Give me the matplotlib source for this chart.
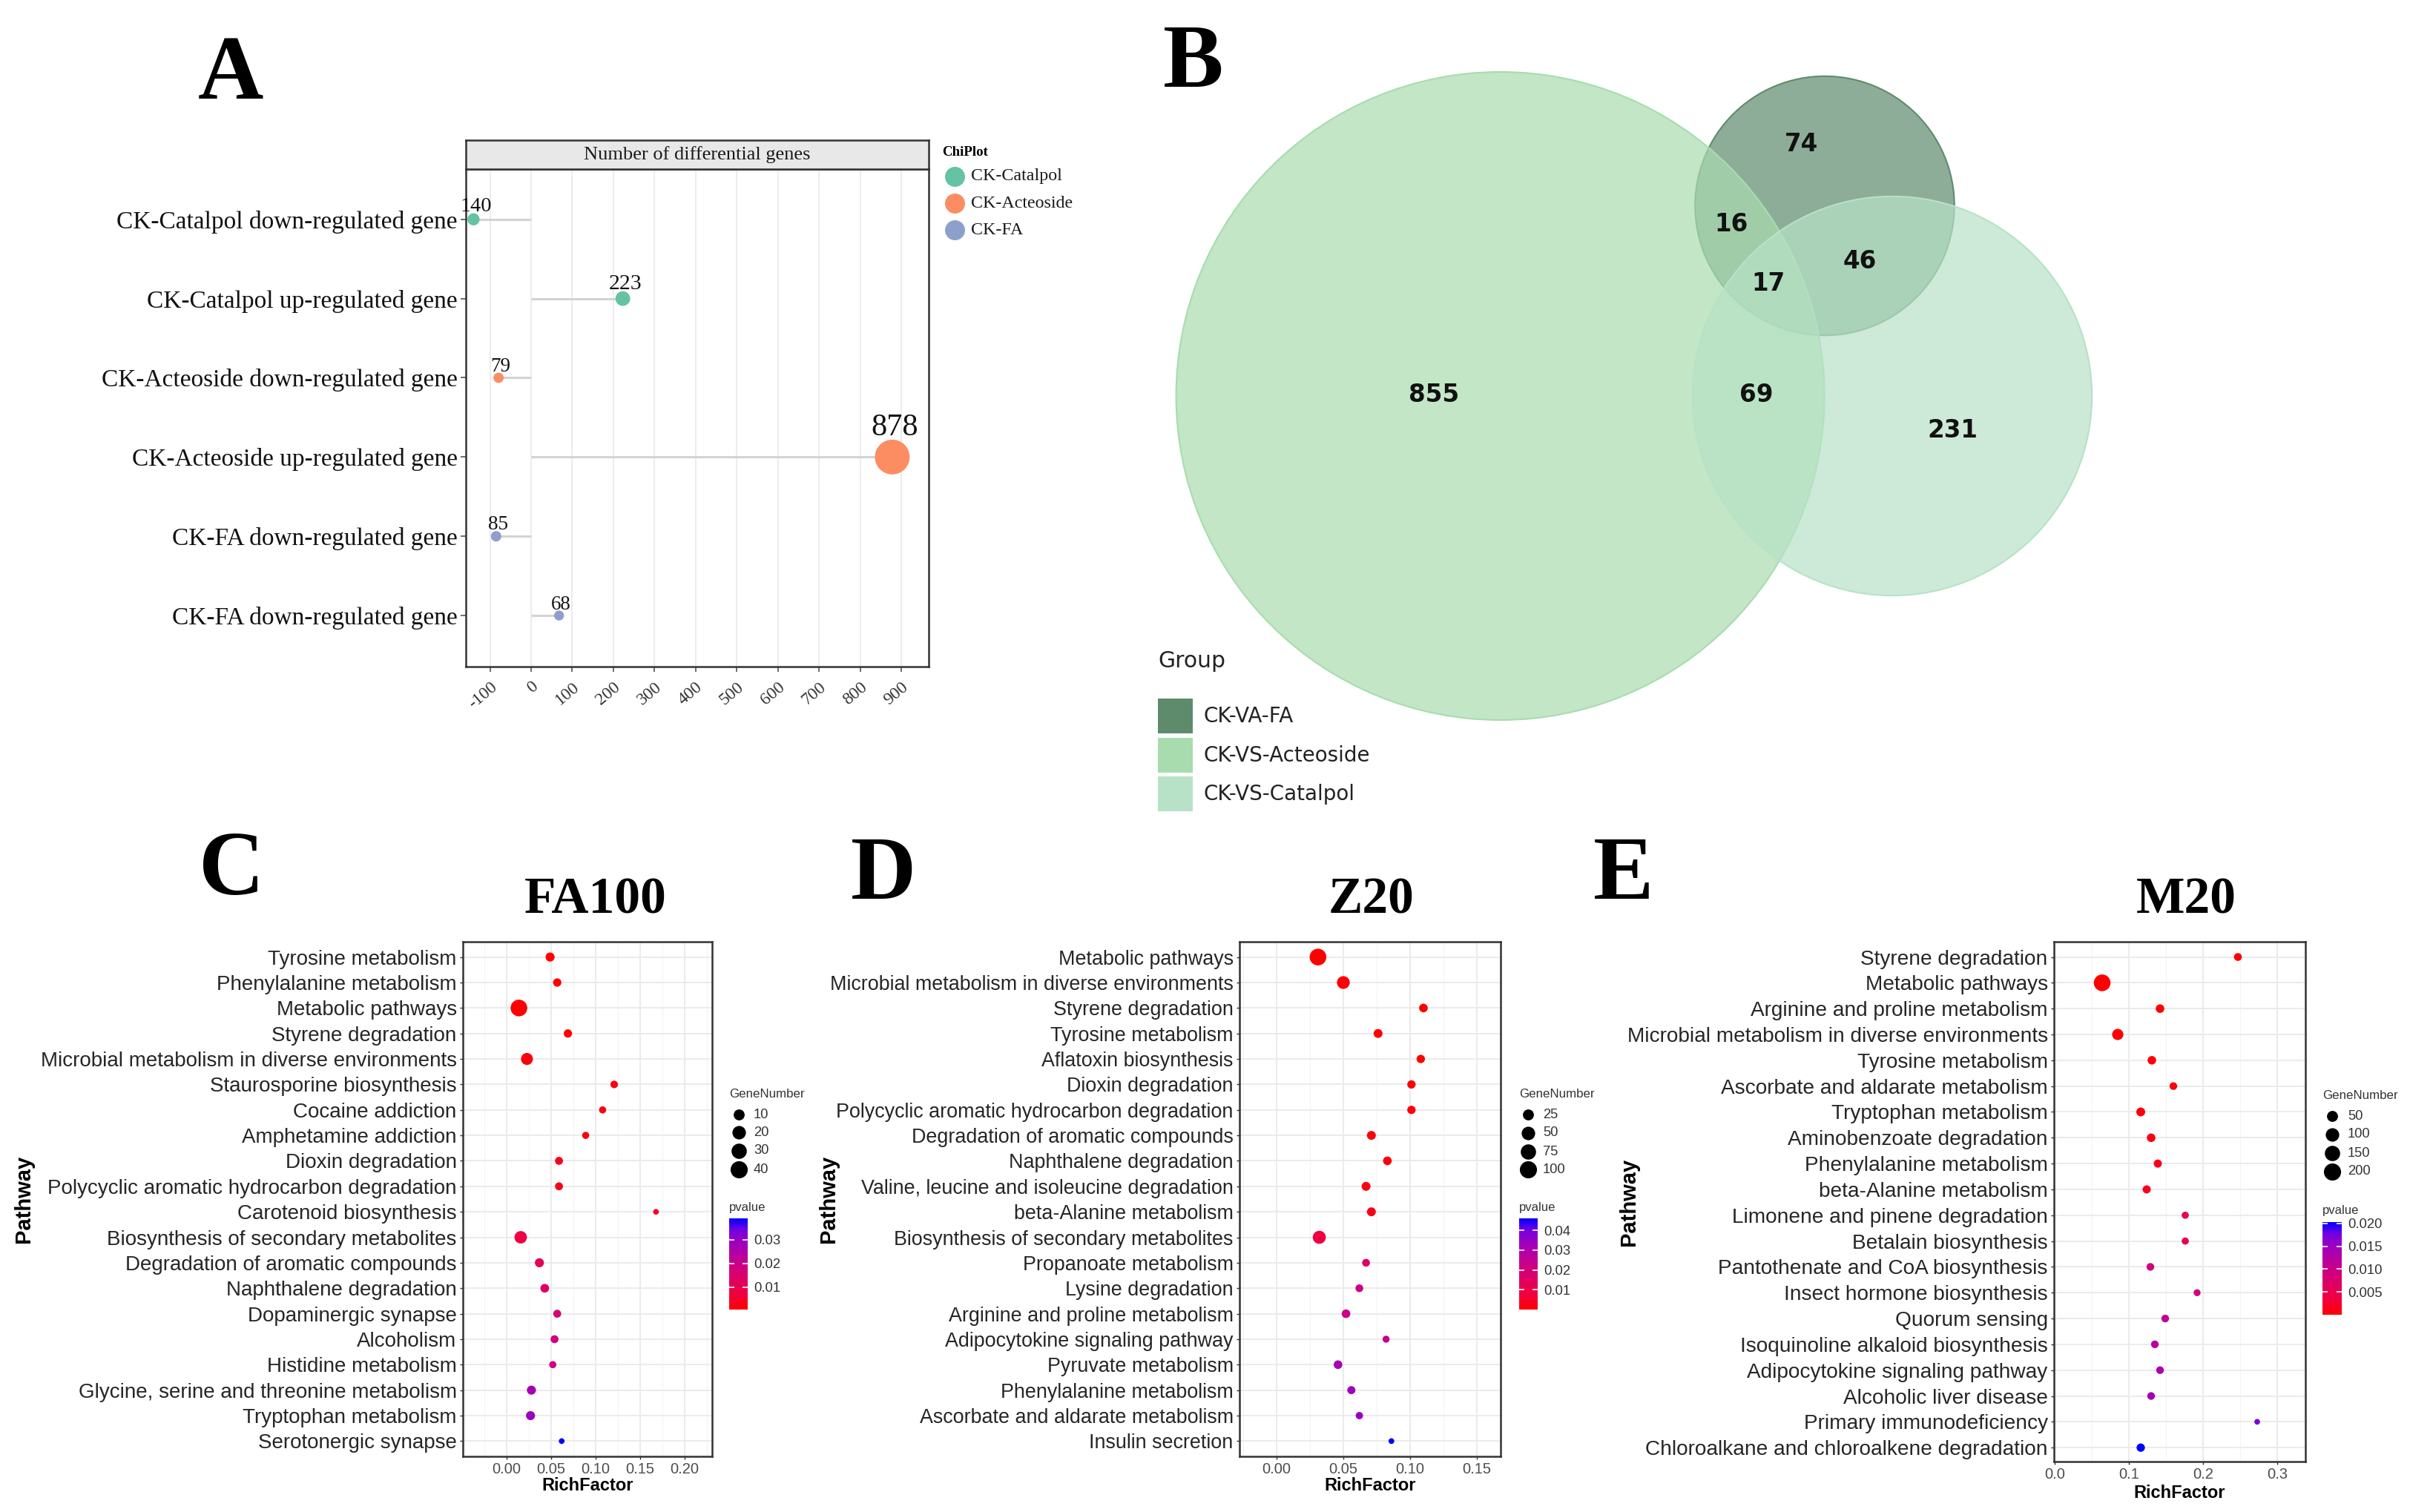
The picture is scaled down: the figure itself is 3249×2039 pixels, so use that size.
import numpy as np
import matplotlib
matplotlib.use("Agg")
import matplotlib.pyplot as plt
from matplotlib.cm import ScalarMappable
from matplotlib.colors import LinearSegmentedColormap, Normalize, to_rgb
from matplotlib.patches import Circle, Rectangle
from matplotlib.ticker import MultipleLocator

W, H, DPI = 3249, 2039, 100
PX = 72.0 / DPI  # points per pixel
SERIF = "Liberation Serif"
SANS = "Liberation Sans"

# ---------------- A: number of differential genes ----------------
a_labels = ["CK-Catalpol down-regulated gene", "CK-Catalpol up-regulated gene",
            "CK-Acteoside down-regulated gene", "CK-Acteoside up-regulated gene",
            "CK-FA down-regulated gene", "CK-FA down-regulated gene"]
a_values = [-140, 223, -79, 878, -85, 68]
a_groups = ["CK-Catalpol", "CK-Catalpol", "CK-Acteoside", "CK-Acteoside", "CK-FA", "CK-FA"]
a_group_names = ["CK-Catalpol", "CK-Acteoside", "CK-FA"]
a_group_colors = ["#66C2A5", "#FC8D62", "#8DA0CB"]
a_xticks = list(range(-100, 1000, 100))

# ---------------- B: venn ----------------
venn_names = ["CK-VA-FA", "CK-VS-Acteoside", "CK-VS-Catalpol"]
venn_colors = ["#5F8B6D", "#A8DCAE", "#B7E2C7"]
venn_keys = ["100", "010", "001", "110", "101", "011", "111"]  # FA, Acteoside, Catalpol
venn_counts = [74, 855, 231, 16, 46, 69, 17]

# ---------------- C: FA100 ----------------
c_pathways = ["Tyrosine metabolism", "Phenylalanine metabolism", "Metabolic pathways",
              "Styrene degradation", "Microbial metabolism in diverse environments",
              "Staurosporine biosynthesis", "Cocaine addiction", "Amphetamine addiction",
              "Dioxin degradation", "Polycyclic aromatic hydrocarbon degradation",
              "Carotenoid biosynthesis", "Biosynthesis of secondary metabolites",
              "Degradation of aromatic compounds", "Naphthalene degradation",
              "Dopaminergic synapse", "Alcoholism", "Histidine metabolism",
              "Glycine, serine and threonine metabolism", "Tryptophan metabolism",
              "Serotonergic synapse"]
c_rich = [0.049, 0.057, 0.014, 0.069, 0.023, 0.121, 0.108, 0.089, 0.059, 0.059,
          0.168, 0.016, 0.037, 0.043, 0.057, 0.054, 0.052, 0.028, 0.027, 0.062]
c_genes = [10, 8, 42, 8, 20, 6, 5, 5, 7, 7, 2, 22, 10, 9, 7, 7, 5, 10, 10, 2]
c_pvals = [0.0006, 0.0008, 0.0010, 0.0013, 0.0016, 0.0020, 0.0024, 0.0028, 0.0032, 0.0032,
           0.0036, 0.0083, 0.0110, 0.0133, 0.0160, 0.0180, 0.0190, 0.0270, 0.0290, 0.0390]
c_breaks = [10, 20, 30, 40]

# ---------------- D: Z20 ----------------
d_pathways = ["Metabolic pathways", "Microbial metabolism in diverse environments",
              "Styrene degradation", "Tyrosine metabolism", "Aflatoxin biosynthesis",
              "Dioxin degradation", "Polycyclic aromatic hydrocarbon degradation",
              "Degradation of aromatic compounds", "Naphthalene degradation",
              "Valine, leucine and isoleucine degradation", "beta-Alanine metabolism",
              "Biosynthesis of secondary metabolites", "Propanoate metabolism",
              "Lysine degradation", "Arginine and proline metabolism",
              "Adipocytokine signaling pathway", "Pyruvate metabolism",
              "Phenylalanine metabolism", "Ascorbate and aldarate metabolism",
              "Insulin secretion"]
d_rich = [0.031, 0.050, 0.110, 0.076, 0.108, 0.101, 0.101, 0.071, 0.083, 0.067,
          0.071, 0.032, 0.067, 0.062, 0.052, 0.082, 0.046, 0.056, 0.062, 0.086]
d_genes = [110, 61, 23, 25, 21, 21, 21, 25, 23, 25, 25, 64, 17, 17, 23, 12, 23, 19, 14, 5]
d_pvals = [0.0001, 0.0002, 0.0004, 0.0006, 0.0009, 0.0012, 0.0012, 0.0016, 0.0019, 0.0024,
           0.0030, 0.0090, 0.0160, 0.0210, 0.0230, 0.0250, 0.0320, 0.0330, 0.0345, 0.0460]
d_breaks = [25, 50, 75, 100]

# ---------------- E: M20 ----------------
e_pathways = ["Styrene degradation", "Metabolic pathways", "Arginine and proline metabolism",
              "Microbial metabolism in diverse environments", "Tyrosine metabolism",
              "Ascorbate and aldarate metabolism", "Tryptophan metabolism",
              "Aminobenzoate degradation", "Phenylalanine metabolism",
              "beta-Alanine metabolism", "Limonene and pinene degradation",
              "Betalain biosynthesis", "Pantothenate and CoA biosynthesis",
              "Insect hormone biosynthesis", "Quorum sensing",
              "Isoquinoline alkaloid biosynthesis", "Adipocytokine signaling pathway",
              "Alcoholic liver disease", "Primary immunodeficiency",
              "Chloroalkane and chloroalkene degradation"]
e_rich = [0.247, 0.064, 0.142, 0.085, 0.131, 0.160, 0.116, 0.130, 0.139, 0.124,
          0.176, 0.176, 0.129, 0.192, 0.149, 0.135, 0.142, 0.130, 0.273, 0.116]
e_genes = [33, 230, 43, 91, 43, 30, 48, 43, 37, 37, 23, 23, 30, 20, 30, 30, 30, 30, 6, 40]
e_pvals = [0.00001, 0.00002, 0.0002, 0.0003, 0.0005, 0.0007, 0.0008, 0.0010, 0.0012, 0.0015,
           0.0050, 0.0052, 0.0090, 0.0092, 0.0110, 0.0120, 0.0132, 0.0142, 0.0173, 0.0203]
e_breaks = [50, 100, 150, 200]

# red -> blue gradient (interpolated through Lab like ggplot does)
CMAP = LinearSegmentedColormap.from_list(
    "pval", [(0, "#FF0000"), (0.125, "#F40031"), (0.25, "#E80050"), (0.5, "#CA0089"),
             (0.75, "#9A00C2"), (0.875, "#7300E0"), (1, "#0000FF")])
DOT_MIN, DOT_MAX = 7.7, 22.5          # point diameters in px
KEY_DIAM = [14.8, 18.2, 20.6, 23.1]   # legend key diameters in px


def box(l, t, r, b):
    """pixel box (left, top, right, bottom) -> figure fraction rect"""
    return [l / W, 1 - b / H, (r - l) / W, (b - t) / H]


fig = plt.figure(figsize=(W / DPI, H / DPI), dpi=DPI)
fig.patch.set_facecolor("white")

# overlay in pixel coordinates for the venn, legends and free text
ov = fig.add_axes([0, 0, 1, 1])
ov.set_xlim(0, W)
ov.set_ylim(H, 0)
ov.axis("off")


def letter(x, y, s, size=88):
    cap = 0.662 * size / PX
    ov.text(x, y + cap / 2, s, family=SERIF, weight="bold", fontsize=size,
            ha="center", va="baseline", color="black")


# ======================= A =======================
ax = fig.add_axes(box(628, 228, 1252, 899))
vals = np.array(a_values)
ypos = np.arange(1, len(vals) + 1)
mag = np.abs(vals)
diam = np.interp(mag, [mag.min(), mag.max()], [13.4, 46.9])
fsize = np.interp(mag, [mag.min(), mag.max()], [19.4, 30.5])
cols = [a_group_colors[a_group_names.index(g)] for g in a_groups]
ax.hlines(ypos, 0, vals, color="#D3D3D3", lw=2.2, zorder=2)
ax.scatter(vals, ypos, s=(diam * PX) ** 2, c=cols, linewidths=0, zorder=3)
for v, yy, d, fs in zip(vals, ypos, diam, fsize):
    ax.annotate(str(abs(v)), (v, yy), xytext=(3 * PX, 1.27 * d / 2 * PX),
                textcoords="offset points", ha="center", va="baseline",
                fontsize=fs, family=SERIF, color="#111111", zorder=4)
ax.set_xlim(-158.6, 966.5)
ax.set_ylim(len(vals) + 0.645, 0.366)
ax.set_xticks(a_xticks)
ax.set_xticklabels([str(t) for t in a_xticks], rotation=40, ha="right",
                   rotation_mode="anchor", family=SERIF, fontsize=17, color="#333333")
ax.set_yticks(ypos)
ax.set_yticklabels(a_labels, family=SERIF, fontsize=24, color="#111111")
ax.grid(axis="x", color="#EBEBEB", lw=1.3)
ax.set_axisbelow(True)
for s in ax.spines.values():
    s.set_color("#333333")
    s.set_linewidth(1.8)
ax.tick_params(length=5, width=1.2, color="#555555", pad=3)
ax.tick_params(axis="x", pad=7)

strip = fig.add_axes(box(628, 189, 1252, 228))
strip.set_facecolor("#E8E8E8")
strip.set_xticks([])
strip.set_yticks([])
for s in strip.spines.values():
    s.set_color("#333333")
    s.set_linewidth(1.8)
strip.text(0.5, 0.5, "Number of differential genes", ha="center", va="center",
           family=SERIF, fontsize=19, color="#1A1A1A")

ov.text(1270, 205, "ChiPlot", family=SERIF, weight="bold", fontsize=13.6,
        ha="left", va="center")
for name, col, yy in zip(a_group_names, a_group_colors, [238, 274, 310]):
    ov.scatter([1287], [yy], s=(27 * PX) ** 2, color=col, linewidths=0)
    ov.text(1309, yy, name, family=SERIF, fontsize=17.3, va="center", color="#1A1A1A")
letter(311, 93, "A")

# ======================= B =======================
member = np.array([[int(c) for c in k] for k in venn_keys])
totals = member.T @ np.array(venn_counts)
radii = 437 * np.sqrt(totals / totals.max())
centers = [(2460, 277.5), (2022.6, 534), (2551, 534)]
for (cx, cy), r, col in zip(centers, radii, venn_colors):
    ov.add_patch(Circle((cx, cy), r, facecolor=(*to_rgb(col), 0.7),
                        edgecolor=col, lw=1.5))
label_xy = [(2429, 195), (1933, 533), (2632, 580), (2334, 303),
            (2507, 353), (2368, 533), (2384, 382)]
for (lx, ly), n in zip(label_xy, venn_counts):
    ov.text(lx, ly, str(n), ha="center", va="center", fontsize=23.5,
            weight="bold", family="DejaVu Sans", color="#111111")
ov.text(1561, 891, "Group", fontsize=21.5, va="center", family="DejaVu Sans",
        color="#222222")
for name, col, top in zip(venn_names, venn_colors, [942, 995, 1047]):
    ov.add_patch(Rectangle((1561, top), 47, 47, facecolor=col, edgecolor="none"))
    ov.text(1623, top + 24, name, fontsize=20, va="center", family="DejaVu Sans",
            color="#222222")
letter(1609, 77, "B")


# ======================= C, D, E =======================
def dot_panel(lay, pathways, rich, genes, pvals, breaks):
    ax = fig.add_axes(box(*lay["box"]))
    n = len(pathways)
    yy = np.arange(n, 0, -1)
    g = np.asarray(genes, float)
    area = np.interp(g, [g.min(), g.max()], [DOT_MIN ** 2, DOT_MAX ** 2])
    norm = Normalize(min(pvals), max(pvals))
    ax.scatter(rich, yy, s=area * PX ** 2, c=pvals, cmap=CMAP, norm=norm,
               linewidths=0, zorder=3)
    ax.set_xlim(*lay["xlim"])
    ax.set_ylim(*lay["ylim"])
    ax.set_xticks(lay["xticks"])
    ax.set_xticklabels([lay["xfmt"].format(t) for t in lay["xticks"]],
                       fontsize=14.5, color="#4D4D4D", family=SANS)
    ax.xaxis.set_minor_locator(MultipleLocator(lay["minor"]))
    ax.set_yticks(yy)
    ax.set_yticklabels(pathways, fontsize=lay["ysize"], color="#262626", family=SANS)
    ax.grid(which="major", color="#EBEBEB", lw=1.4)
    ax.grid(which="minor", axis="x", color="#F4F4F4", lw=0.9)
    ax.tick_params(which="major", length=3, width=1, color="#333333", pad=3)
    ax.tick_params(which="minor", length=0)
    ax.set_axisbelow(True)
    for s in ax.spines.values():
        s.set_color("#333333")
        s.set_linewidth(1.8)

    l, t, r, b = lay["box"]
    ov.text(lay["ylab_x"], (t + b) / 2, "Pathway", rotation=90, ha="center",
            va="center", weight="bold", fontsize=21, family=SANS, color="black")
    ov.text(*lay["xlab"], "RichFactor", ha="center", va="center", weight="bold",
            fontsize=17, family=SANS, color="black")
    tx, ty = lay["title"]
    ov.text(tx, ty + 0.662 * 50 / PX / 2, lay["name"], family=SERIF, weight="bold",
            fontsize=50, ha="center", va="baseline")
    letter(*lay["letter"], lay["tag"])

    # size legend
    gx, gy = lay["gtitle"]
    ov.text(gx, gy, "GeneNumber", fontsize=12.2, family=SANS, va="center",
            color="#333333")
    for br, dk, ky in zip(breaks, KEY_DIAM, lay["key_y"]):
        ov.scatter([lay["key_x"]], [ky], s=(dk * PX) ** 2, color="black", linewidths=0)
        ov.text(lay["lab_x"], ky, str(br), fontsize=13.2, family=SANS, va="center",
                color="#333333")
    px_, py_ = lay["ptitle"]
    ov.text(px_, py_, "pvalue", fontsize=12, family=SANS, va="center", color="#333333")

    cax = fig.add_axes(box(*lay["cbar"]))
    cb = fig.colorbar(ScalarMappable(norm=norm, cmap=CMAP), cax=cax, ticks=lay["pticks"])
    cb.outline.set_visible(False)
    cb.ax.tick_params(left=True, right=True, labelleft=False, labelright=True,
                      direction="in", length=5, width=1.2, color="white",
                      labelsize=13.3, labelcolor="#333333", pad=6)
    cb.ax.set_yticklabels([lay["pfmt"].format(p) for p in lay["pticks"]], family=SANS)
    cb.ax.minorticks_off()


lay_c = dict(box=(624, 1270, 960, 1964), xlim=(-0.049, 0.231), ylim=(0.4, 20.6),
             xticks=[0, 0.05, 0.10, 0.15, 0.20], xfmt="{:.2f}", minor=0.025, ysize=20,
             ylab_x=32, xlab=(792, 2003), title=(803, 1209), name="FA100",
             letter=(312, 1166), tag="C", gtitle=(983, 1476), key_x=996,
             key_y=[1503, 1527, 1552, 1577], lab_x=1016, ptitle=(983, 1628),
             cbar=(983, 1643, 1008, 1766), pticks=[0.01, 0.02, 0.03], pfmt="{:.2f}")
lay_d = dict(box=(1671, 1270, 2023, 1964), xlim=(-0.0278, 0.1678), ylim=(0.4, 20.6),
             xticks=[0, 0.05, 0.10, 0.15], xfmt="{:.2f}", minor=0.025, ysize=19.4,
             ylab_x=1117, xlab=(1847, 2003), title=(1849, 1209), name="Z20",
             letter=(1191, 1172), tag="D", gtitle=(2048, 1476), key_x=2060,
             key_y=[1503, 1528, 1553, 1577], lab_x=2080, ptitle=(2048, 1629),
             cbar=(2048, 1643, 2073, 1766), pticks=[0.01, 0.02, 0.03, 0.04], pfmt="{:.2f}")
lay_e = dict(box=(2769, 1270, 3108, 1971), xlim=(-0.001, 0.338), ylim=(0.46, 20.59),
             xticks=[0, 0.1, 0.2, 0.3], xfmt="{:.1f}", minor=0.05, ysize=20.2,
             ylab_x=2196, xlab=(2938, 2013), title=(2947, 1209), name="M20",
             letter=(2189, 1172), tag="E", gtitle=(3131, 1478), key_x=3144,
             key_y=[1505, 1530, 1555, 1580], lab_x=3165, ptitle=(3131, 1633),
             cbar=(3131, 1648, 3157, 1773), pticks=[0.005, 0.010, 0.015, 0.020],
             pfmt="{:.3f}")

dot_panel(lay_c, c_pathways, c_rich, c_genes, c_pvals, c_breaks)
dot_panel(lay_d, d_pathways, d_rich, d_genes, d_pvals, d_breaks)
dot_panel(lay_e, e_pathways, e_rich, e_genes, e_pvals, e_breaks)

fig.savefig("out.png", dpi=DPI, facecolor="white")
